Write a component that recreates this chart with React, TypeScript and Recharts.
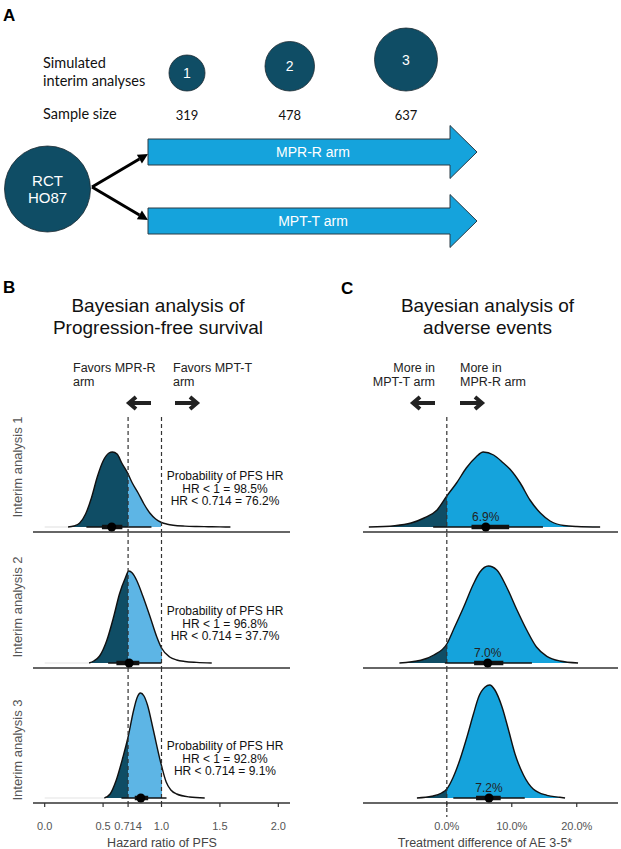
import React from "react";
import { ComposedChart, Area, XAxis, YAxis, ReferenceLine, ReferenceDot } from "recharts";

const DARK = "#0f4d65";
const LIGHT_B = "#5db5e5";
const BLUE_C = "#15a3dc";
const FONT = "'Liberation Sans', Arial, sans-serif";

// ---- panel A ----
const interimNames = ["1", "2", "3"];
const sampleSizes = [319, 478, 637];
const armNames = ["MPR-R arm", "MPT-T arm"];

// ---- panel B: posterior of PFS hazard ratio (relative density) ----
const hrX1 = [0.2, 0.25, 0.3, 0.35, 0.4, 0.45, 0.5, 0.55, 0.58, 0.62, 0.66, 0.714, 0.75, 0.8, 0.85, 0.9, 0.95, 1.0, 1.05, 1.1, 1.2, 1.3, 1.4, 1.5, 1.59];
const hrY1 = [0, 0.01, 0.04, 0.13, 0.29, 0.5, 0.66, 0.74, 0.75, 0.73, 0.64, 0.53, 0.44, 0.34, 0.23, 0.14, 0.08, 0.045, 0.028, 0.018, 0.009, 0.005, 0.003, 0.001, 0];
const hrX2 = [0.38, 0.42, 0.47, 0.53, 0.59, 0.64, 0.69, 0.72, 0.75, 0.79, 0.84, 0.9, 0.96, 1.0, 1.07, 1.13, 1.2, 1.3, 1.43];
const hrY2 = [0, 0.02, 0.07, 0.22, 0.46, 0.69, 0.85, 0.92, 0.9, 0.82, 0.67, 0.47, 0.26, 0.15, 0.06, 0.03, 0.015, 0.006, 0];
const hrX3 = [0.51, 0.56, 0.61, 0.67, 0.714, 0.76, 0.79, 0.82, 0.85, 0.88, 0.93, 0.99, 1.04, 1.08, 1.13, 1.24, 1.37];
const hrY3 = [0, 0.04, 0.17, 0.41, 0.61, 0.87, 1.0, 1.05, 1.02, 0.93, 0.68, 0.37, 0.16, 0.08, 0.04, 0.01, 0];
const hrTicks = [0, 0.5, 0.714, 1, 1.5, 2];
const hrThin = [[0.357, 0.914], [0.543, 1.0], [0.657, 1.043]];
const hrThick = [[0.49, 0.665], [0.614, 0.81], [0.771, 0.886]];
const hrPoint = [0.574, 0.723, 0.823];
const probHR1 = ["98.5%", "96.8%", "92.8%"];
const probHR0714 = ["76.2%", "37.7%", "9.1%"];

// ---- panel C: treatment difference of AE 3-5 (%) ----
const aeX1 = [-12, -8, -5.5, -3.5, -1.5, 0, 1.5, 3, 4.5, 5.6, 7.2, 8.7, 9.7, 11.3, 12.8, 14.4, 15.9, 18, 20, 23.6];
const aeY1 = [0, 0.013, 0.04, 0.09, 0.17, 0.31, 0.44, 0.59, 0.7, 0.75, 0.72, 0.64, 0.58, 0.44, 0.27, 0.14, 0.06, 0.015, 0.005, 0];
const aeX2 = [-7.3, -4, -2, 0, 1, 2.6, 4.1, 5.1, 6.4, 7.7, 9.2, 10.8, 12.3, 13.8, 15.4, 17.4, 20.2];
const aeY2 = [0, 0.027, 0.08, 0.19, 0.33, 0.56, 0.79, 0.91, 0.97, 0.93, 0.76, 0.53, 0.33, 0.16, 0.067, 0.02, 0];
const aeX3 = [-4.6, -2.3, -0.8, 0, 1, 2, 3.1, 4.1, 4.9, 5.9, 6.6, 7.4, 8.5, 9.5, 10.5, 11.8, 13.3, 15.4, 17.4, 18.2];
const aeY3 = [0, 0.017, 0.05, 0.09, 0.21, 0.38, 0.61, 0.84, 1.01, 1.11, 1.13, 1.08, 0.91, 0.68, 0.44, 0.23, 0.09, 0.027, 0.007, 0];
const aeTicks = [0, 10, 20];
const aeThin = [[-2.1, 14.8], [-0.3, 13.1], [1.0, 12.0]];
const aeThick = [[3.8, 9.6], [4.2, 8.7], [4.5, 8.3]];
const aePoint = [6.0, 6.3, 6.5];
const aeLabel = ["6.9%", "7.0%", "7.2%"];

const Y_DOMAIN: [number, number] = [-0.05, 1.3];
const PLOT_H = 135;

type Fill = { color: string; upTo: number };

type DensityProps = {
  id: string;
  xs: number[];
  ys: number[];
  domain: [number, number];
  ticks: number[];
  fmt: (v: number) => string;
  fills: Fill[];
  refs: number[];
  refTop?: number;
  refBottom?: number;
  thin: number[];
  thick: number[];
  point: number;
  label?: string;
  showTicks: boolean;
  width: number;
  left: number;
  right: number;
  faintFrom?: number;
};

function Density(p: DensityProps) {
  const rows = p.xs.map((x, i) => ({ x, y: p.ys[i] }));
  const x0 = p.xs[0];
  const x1 = p.xs[p.xs.length - 1];
  const off = (v: number) => Math.min(1, Math.max(0, (v - x0) / (x1 - x0)));
  const stops: React.ReactElement[] = [];
  let prev = 0;
  p.fills.forEach((f, i) => {
    const o = off(f.upTo);
    const op = f.color === "none" ? 0 : 1;
    const c = f.color === "none" ? "#ffffff" : f.color;
    stops.push(<stop key={i + "a"} offset={prev} stopColor={c} stopOpacity={op} />);
    stops.push(<stop key={i + "b"} offset={o} stopColor={c} stopOpacity={op} />);
    prev = o;
  });
  const axisH = p.showTicks ? 30 : 6;
  return (
    <ComposedChart
      width={p.width}
      height={PLOT_H + axisH}
      data={rows}
      margin={{ top: 0, bottom: 0, left: p.left, right: p.right }}
    >
      <defs>
        <linearGradient id={p.id} x1="0" y1="0" x2="1" y2="0">
          {stops}
        </linearGradient>
      </defs>
      <XAxis
        type="number"
        dataKey="x"
        domain={p.domain}
        ticks={p.ticks}
        allowDataOverflow
        interval={0}
        height={axisH}
        tickSize={4}
        tickMargin={p.showTicks ? 15 : 0}
        tick={p.showTicks ? { fill: "#555", fontSize: 11 } : false}
        tickFormatter={p.fmt}
        axisLine={{ stroke: "#333", strokeWidth: 1.3 }}
        tickLine={{ stroke: "#333", strokeWidth: 1.2 }}
      />
      <YAxis type="number" domain={Y_DOMAIN} allowDataOverflow hide />
      <Area
        type="monotone"
        dataKey="y"
        baseValue={0}
        stroke="#111"
        strokeWidth={1.4}
        fill={`url(#${p.id})`}
        fillOpacity={1}
        dot={false}
        activeDot={false}
        isAnimationActive={false}
      />
      {p.faintFrom !== undefined && (
        <ReferenceLine
          segment={[{ x: p.faintFrom, y: 0 }, { x: x0, y: 0 }]}
          stroke="#e4e4e4"
          strokeWidth={1.2}
        />
      )}
      {p.refs.map((v) => (
        <ReferenceLine
          key={v}
          segment={[
            { x: v, y: p.refTop ?? Y_DOMAIN[1] },
            { x: v, y: p.refBottom ?? Y_DOMAIN[0] },
          ]}
          stroke="#333"
          strokeWidth={1.2}
          strokeDasharray="4 3"
          ifOverflow="visible"
        />
      ))}
      <ReferenceLine
        segment={[{ x: p.thin[0], y: 0 }, { x: p.thin[1], y: 0 }]}
        stroke="#111"
        strokeWidth={1.6}
      />
      <ReferenceLine
        segment={[{ x: p.thick[0], y: 0 }, { x: p.thick[1], y: 0 }]}
        stroke="#111"
        strokeWidth={4.5}
      />
      <ReferenceDot
        x={p.point}
        y={0}
        r={4.5}
        fill="#000"
        stroke="none"
        label={p.label ? { value: p.label, position: "top", offset: 2, fill: "#222", fontSize: 12 } : undefined}
      />
    </ComposedChart>
  );
}

function FatArrow({ cx, cy, dir }: { cx: number; cy: number; dir: number }) {
  const tip = cx + dir * 11;
  return (
    <g stroke="#222" strokeWidth={4} fill="none">
      <path d={`M${cx - dir * 11},${cy} L${tip - dir * 1.5},${cy}`} />
      <path d={`M${tip - dir * 7},${cy - 6} L${tip},${cy} L${tip - dir * 7},${cy + 6}`} strokeLinejoin="miter" />
    </g>
  );
}

function Connector({ x1, y1, x2, y2 }: { x1: number; y1: number; x2: number; y2: number }) {
  const dx = x2 - x1;
  const dy = y2 - y1;
  const len = Math.hypot(dx, dy);
  const ux = dx / len;
  const uy = dy / len;
  const bx = x2 - ux * 10;
  const by = y2 - uy * 10;
  const px = -uy * 5;
  const py = ux * 5;
  return (
    <g>
      <line x1={x1} y1={y1} x2={bx} y2={by} stroke="#000" strokeWidth={3} />
      <polygon points={`${x2},${y2} ${bx + px},${by + py} ${bx - px},${by - py}`} fill="#000" />
    </g>
  );
}

function bigArrow(cy: number) {
  const pts = [
    [148, cy - 13], [450, cy - 13], [450, cy - 26.5], [477, cy],
    [450, cy + 26.5], [450, cy + 13], [148, cy + 13],
  ];
  return pts.map((q) => q.join(",")).join(" ");
}

function Overlay() {
  // circle radius grows with the sample size
  const radius = (n: number) => 18 + ((n - sampleSizes[0]) * 13.5) / (sampleSizes[2] - sampleSizes[0]);
  const circles: { cx: number; r: number }[] = [];
  sampleSizes.forEach((n, i) => {
    const r = radius(n);
    const cx = i === 0 ? 187 : circles[i - 1].cx + circles[i - 1].r + 60 + r;
    circles.push({ cx, r });
  });
  const armY = [152, 221];
  const bProbY = [476, 611, 746];
  const yLabelY = [467, 607, 750];
  return (
    <svg width={621} height={849} style={{ position: "absolute", left: 0, top: 0, pointerEvents: "none" }}>
      <g fontFamily={FONT}>
        <text x={3} y={21} fontSize={17} fontWeight="bold">A</text>
        <text x={3} y={293} fontSize={17} fontWeight="bold">B</text>
        <text x={341} y={294} fontSize={17} fontWeight="bold">C</text>
      </g>

      {/* panel A */}
      <g fontFamily="Lato, 'Open Sans', sans-serif" fill="#111">
        <text x={43} y={62} fontSize={14.5} dominantBaseline="central">Simulated</text>
        <text x={43} y={80} fontSize={14.5} dominantBaseline="central">interim analyses</text>
        <text x={43} y={113} fontSize={14.5} dominantBaseline="central">Sample size</text>
      </g>
      {circles.map((c, i) => (
        <g key={i}>
          <circle cx={c.cx} cy={91 - c.r} r={c.r} fill={DARK} stroke="#1c2a31" strokeWidth={0.8} />
          <text x={c.cx} y={91 - c.r} fill="#fff" fontSize={14} fontFamily={FONT} textAnchor="middle" dominantBaseline="central">
            {interimNames[i]}
          </text>
          <text x={c.cx} y={115} fill="#111" fontSize={13} fontFamily="Lato, sans-serif" textAnchor="middle" dominantBaseline="central">
            {sampleSizes[i]}
          </text>
        </g>
      ))}
      <circle cx={47.5} cy={189} r={43} fill={DARK} stroke="#1c2a31" strokeWidth={0.8} />
      <text x={47.5} y={180} fill="#fff" fontSize={15} fontFamily={FONT} textAnchor="middle" dominantBaseline="central">RCT</text>
      <text x={47.5} y={197} fill="#fff" fontSize={15} fontFamily={FONT} textAnchor="middle" dominantBaseline="central">HO87</text>
      <Connector x1={92} y1={187} x2={148} y2={154} />
      <Connector x1={92} y1={187} x2={148} y2={220} />
      {armNames.map((a, i) => (
        <g key={a}>
          <polygon points={bigArrow(armY[i])} fill="#15a3dc" stroke="#2a3a44" strokeWidth={1} />
          <text x={313} y={armY[i]} fill="#fff" fontSize={14} fontFamily={FONT} textAnchor="middle" dominantBaseline="central">
            {a}
          </text>
        </g>
      ))}

      {/* titles */}
      <g fontFamily={FONT} fill="#111" textAnchor="middle" fontSize={19}>
        <text x={158} y={305} dominantBaseline="central">Bayesian analysis of</text>
        <text x={158} y={327} dominantBaseline="central">Progression-free survival</text>
        <text x={487.5} y={305} dominantBaseline="central">Bayesian analysis of</text>
        <text x={487.5} y={327} dominantBaseline="central">adverse events</text>
      </g>
      <g fontFamily={FONT} fill="#222" fontSize={12.5}>
        <text x={73} y={368} dominantBaseline="central">Favors MPR-R</text>
        <text x={73} y={382} dominantBaseline="central">arm</text>
        <text x={173} y={368} dominantBaseline="central">Favors MPT-T</text>
        <text x={173} y={382} dominantBaseline="central">arm</text>
        <text x={435} y={368} textAnchor="end" dominantBaseline="central">More in</text>
        <text x={435} y={382} textAnchor="end" dominantBaseline="central">MPT-T arm</text>
        <text x={460} y={368} dominantBaseline="central">More in</text>
        <text x={460} y={382} dominantBaseline="central">MPR-R arm</text>
      </g>
      <FatArrow cx={140} cy={403} dir={-1} />
      <FatArrow cx={186} cy={403} dir={1} />
      <FatArrow cx={424} cy={403} dir={-1} />
      <FatArrow cx={471} cy={403} dir={1} />

      {yLabelY.map((y, i) => (
        <text
          key={i}
          x={0}
          y={0}
          transform={`translate(17,${y}) rotate(-90)`}
          fontFamily={FONT}
          fontSize={13}
          fill="#555"
          textAnchor="middle"
          dominantBaseline="central"
        >
          {`Interim analysis ${i + 1}`}
        </text>
      ))}

      {bProbY.map((y, i) => (
        <g key={i} fontFamily={FONT} fontSize={12} fill="#111" textAnchor="middle">
          <text x={225} y={y} dominantBaseline="central">Probability of PFS HR</text>
          <text x={225} y={y + 12.5} dominantBaseline="central">{`HR < 1 = ${probHR1[i]}`}</text>
          <text x={225} y={y + 25} dominantBaseline="central">{`HR < 0.714 = ${probHR0714[i]}`}</text>
        </g>
      ))}

      <g fontFamily={FONT} fontSize={12.5} fill="#444" textAnchor="middle">
        <text x={162} y={843} dominantBaseline="central">Hazard ratio of PFS</text>
        <text x={485} y={843} dominantBaseline="central">Treatment difference of AE 3-5*</text>
      </g>
    </svg>
  );
}

const hrFmt = (v: number) => (v === 0.714 ? "0.714" : v.toFixed(1));
const aeFmt = (v: number) => `${v.toFixed(1)}%`;

export default function App() {
  const hrX = [hrX1, hrX2, hrX3];
  const hrY = [hrY1, hrY2, hrY3];
  const aeX = [aeX1, aeX2, aeX3];
  const aeY = [aeY1, aeY2, aeY3];
  const tops = [397, 533, 668];
  return (
    <div
      style={{
        position: "absolute",
        left: 0,
        top: 0,
        width: 621,
        height: 849,
        background: "#fff",
        fontFamily: FONT,
        overflow: "hidden",
      }}
    >
      {tops.map((top, i) => (
        <div key={"b" + i} style={{ position: "absolute", left: 0, top }}>
          <Density
            id={`gradB${i}`}
            xs={hrX[i]}
            ys={hrY[i]}
            domain={[-0.1, 2.1]}
            ticks={hrTicks}
            fmt={hrFmt}
            fills={[
              { color: DARK, upTo: 0.714 },
              { color: LIGHT_B, upTo: 1 },
              { color: "none", upTo: Infinity },
            ]}
            refs={[0.714, 1]}
            refTop={i === 0 ? 1.1 : undefined}
            thin={hrThin[i]}
            thick={hrThick[i]}
            point={hrPoint[i]}
            showTicks={i === 2}
            width={310}
            left={33}
            right={20}
            faintFrom={0}
          />
        </div>
      ))}
      {tops.map((top, i) => (
        <div key={"c" + i} style={{ position: "absolute", left: 310, top }}>
          <Density
            id={`gradC${i}`}
            xs={aeX[i]}
            ys={aeY[i]}
            domain={[-12.9, 26.35]}
            ticks={aeTicks}
            fmt={aeFmt}
            fills={[
              { color: DARK, upTo: 0 },
              { color: BLUE_C, upTo: Infinity },
            ]}
            refs={[0]}
            refTop={i === 0 ? 1.1 : undefined}
            refBottom={i === 2 ? -0.19 : undefined}
            thin={aeThin[i]}
            thick={aeThick[i]}
            point={aePoint[i]}
            label={aeLabel[i]}
            showTicks={i === 2}
            width={311}
            left={53}
            right={3}
          />
        </div>
      ))}
      <Overlay />
    </div>
  );
}
